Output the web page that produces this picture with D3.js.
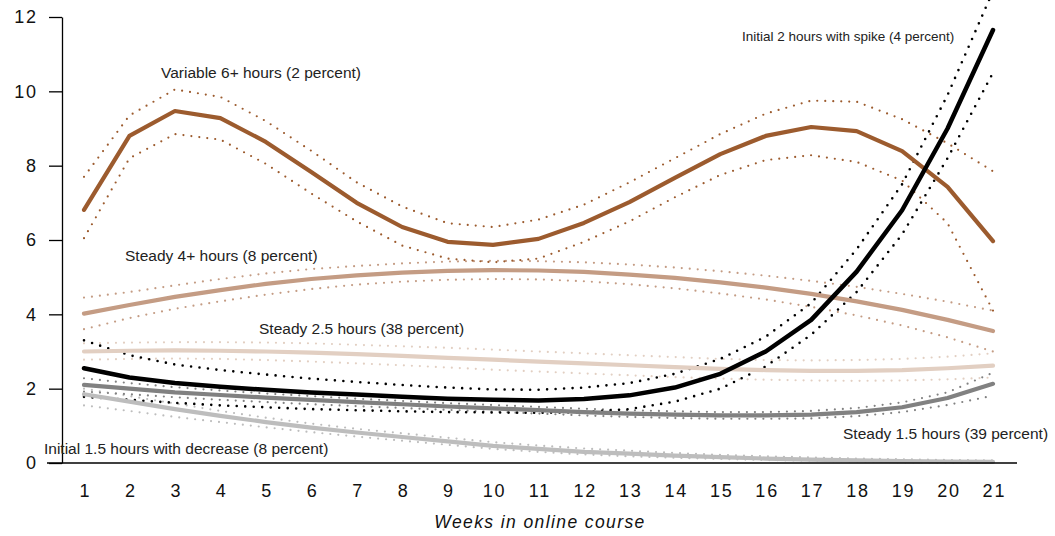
<!DOCTYPE html>
<html>
<head>
<meta charset="utf-8">
<script src="https://cdn.jsdelivr.net/npm/d3@7"></script>
<style>
  html, body { margin: 0; padding: 0; background: #fff; }
  svg { display: block; }
  .tick text { font-family: "Liberation Sans", Arial, sans-serif; }
  .lbl { font-family: "Liberation Sans Narrow", "Liberation Sans", Arial, sans-serif; fill: #222; }
</style>
</head>
<body>
<svg id="chart" width="1055" height="536"></svg>
<script>
const weeks = d3.range(1, 22);
const yTicks = [0, 2, 4, 6, 8, 10, 12];

// Variable 6+ hours (2 percent)
const variable6 = [6.81, 8.80, 9.47, 9.28, 8.64, 7.83, 7.00, 6.35, 5.95, 5.87, 6.03, 6.46, 7.02, 7.67, 8.31, 8.80, 9.04, 8.93, 8.39, 7.43, 5.97];
const variable6Hi = [7.70, 9.35, 10.05, 9.85, 9.20, 8.40, 7.55, 6.90, 6.45, 6.35, 6.55, 6.95, 7.55, 8.20, 8.85, 9.40, 9.75, 9.72, 9.25, 8.60, 7.85];
const variable6Lo = [6.05, 8.20, 8.85, 8.70, 8.05, 7.25, 6.50, 5.85, 5.50, 5.40, 5.50, 5.95, 6.50, 7.15, 7.75, 8.15, 8.28, 8.10, 7.60, 6.45, 4.10];

// Steady 4+ hours (8 percent)
const steady4 = [4.02, 4.25, 4.47, 4.65, 4.82, 4.95, 5.05, 5.12, 5.17, 5.19, 5.18, 5.14, 5.07, 4.98, 4.86, 4.72, 4.55, 4.35, 4.12, 3.85, 3.55];
const steady4Hi = [4.45, 4.60, 4.78, 4.95, 5.10, 5.22, 5.30, 5.37, 5.42, 5.44, 5.43, 5.40, 5.34, 5.26, 5.16, 5.04, 4.90, 4.74, 4.55, 4.34, 4.10];
const steady4Lo = [3.60, 3.90, 4.15, 4.35, 4.53, 4.68, 4.80, 4.88, 4.93, 4.95, 4.94, 4.89, 4.81, 4.70, 4.56, 4.40, 4.20, 3.97, 3.70, 3.38, 3.00];

// Steady 2.5 hours (38 percent)
const steady25 = [3.00, 3.02, 3.03, 3.02, 3.00, 2.97, 2.93, 2.88, 2.83, 2.78, 2.73, 2.68, 2.63, 2.58, 2.53, 2.50, 2.48, 2.48, 2.50, 2.55, 2.62];
const steady25Hi = [3.22, 3.24, 3.25, 3.25, 3.24, 3.22, 3.18, 3.14, 3.10, 3.05, 3.00, 2.95, 2.90, 2.85, 2.80, 2.77, 2.76, 2.77, 2.80, 2.86, 2.95];
const steady25Lo = [2.78, 2.80, 2.81, 2.80, 2.77, 2.73, 2.68, 2.63, 2.57, 2.51, 2.46, 2.41, 2.36, 2.31, 2.27, 2.24, 2.22, 2.21, 2.22, 2.25, 2.30];

// Initial 2 hours with spike (4 percent)
const spike2 = [2.55, 2.30, 2.15, 2.05, 1.97, 1.90, 1.84, 1.78, 1.73, 1.70, 1.68, 1.72, 1.82, 2.03, 2.40, 3.00, 3.85, 5.15, 6.80, 9.00, 11.65];
const spike2Hi = [3.30, 2.90, 2.65, 2.50, 2.38, 2.27, 2.18, 2.10, 2.03, 1.98, 1.97, 2.03, 2.15, 2.40, 2.80, 3.40, 4.30, 5.75, 7.50, 9.90, 12.70];
const spike2Lo = [1.78, 1.70, 1.62, 1.55, 1.50, 1.45, 1.42, 1.39, 1.37, 1.36, 1.35, 1.37, 1.45, 1.65, 2.00, 2.60, 3.45, 4.60, 6.15, 8.20, 10.50];

// Steady 1.5 hours (39 percent)
const steady15 = [2.10, 2.00, 1.90, 1.83, 1.76, 1.70, 1.64, 1.58, 1.52, 1.47, 1.42, 1.37, 1.33, 1.30, 1.28, 1.28, 1.30, 1.37, 1.50, 1.75, 2.13];
const steady15Hi = [2.28, 2.15, 2.04, 1.95, 1.87, 1.80, 1.73, 1.67, 1.61, 1.56, 1.51, 1.46, 1.42, 1.39, 1.37, 1.37, 1.40, 1.48, 1.63, 1.90, 2.43];
const steady15Lo = [1.92, 1.85, 1.77, 1.70, 1.64, 1.58, 1.53, 1.48, 1.43, 1.38, 1.33, 1.28, 1.24, 1.21, 1.19, 1.19, 1.20, 1.26, 1.37, 1.56, 1.81];

// Initial 1.5 hours with decrease (8 percent)
const decr15 = [1.85, 1.65, 1.45, 1.27, 1.10, 0.95, 0.82, 0.70, 0.58, 0.46, 0.38, 0.30, 0.25, 0.20, 0.16, 0.12, 0.09, 0.07, 0.05, 0.04, 0.03];
const decr15Hi = [2.00, 1.80, 1.60, 1.40, 1.22, 1.06, 0.92, 0.80, 0.68, 0.56, 0.47, 0.39, 0.33, 0.27, 0.22, 0.18, 0.15, 0.12, 0.10, 0.08, 0.07];
const decr15Lo = [1.55, 1.40, 1.24, 1.10, 0.96, 0.83, 0.71, 0.60, 0.49, 0.38, 0.30, 0.23, 0.18, 0.14, 0.11, 0.08, 0.06, 0.04, 0.02, 0.01, 0.00];

const seriesNames = [
  "Initial 1.5 hours with decrease (8 percent)",
  "Steady 1.5 hours (39 percent)",
  "Steady 2.5 hours (38 percent)",
  "Steady 4+ hours (8 percent)",
  "Variable 6+ hours (2 percent)",
  "Initial 2 hours with spike (4 percent)"
];
const seriesValues = [decr15, steady15, steady25, steady4, variable6, spike2];
const seriesHi = [decr15Hi, steady15Hi, steady25Hi, steady4Hi, variable6Hi, spike2Hi];
const seriesLo = [decr15Lo, steady15Lo, steady25Lo, steady4Lo, variable6Lo, spike2Lo];
const seriesColors = ["#bdbdbd", "#818181", "#e2cfc2", "#c49c84", "#9c5b2e", "#000000"];

const svg = d3.select("#chart");
const x = d3.scaleLinear().domain([1, 21]).range([84, 993]);
const y = d3.scaleLinear().domain([0, 12]).range([463, 17]);

const line = d3.line().x((d, i) => x(weeks[i])).y(d => y(d));

// dotted bounds
seriesValues.forEach((vals, k) => {
  [seriesHi[k], seriesLo[k]].forEach(b => {
    svg.append("path")
      .attr("d", line(b))
      .attr("fill", "none")
      .attr("stroke", seriesColors[k])
      .attr("stroke-width", k === 5 ? 2.6 : 2.2)
      .attr("stroke-linecap", "round")
      .attr("stroke-dasharray", k === 5 ? "0 8.5" : "0 8");
  });
});

// main lines
seriesValues.forEach((vals, k) => {
  svg.append("path")
    .attr("d", line(vals))
    .attr("fill", "none")
    .attr("stroke", seriesColors[k])
    .attr("stroke-width", k === 5 ? 4.5 : 4.2)
    .attr("stroke-linecap", "round")
    .attr("stroke-linejoin", "round");
});

// y axis
const yAxis = svg.append("g")
  .attr("transform", "translate(62,0)")
  .call(d3.axisLeft(y).tickValues(yTicks).tickSize(13).tickSizeOuter(0).tickPadding(13));
yAxis.select(".domain").attr("stroke", "#000").attr("stroke-width", 1.3);
yAxis.selectAll(".tick line").attr("stroke", "#000").attr("stroke-width", 1.3);
yAxis.selectAll(".tick text").attr("font-size", 18).attr("fill", "#111").attr("letter-spacing", 1.8).attr("dx", 1.8);

// x axis line
svg.append("line")
  .attr("x1", 47).attr("x2", 1017)
  .attr("y1", y(0)).attr("y2", y(0))
  .attr("stroke", "#000").attr("stroke-width", 1.3);

// x tick labels
const xAxis = svg.append("g")
  .attr("transform", `translate(0,${y(0)})`)
  .call(d3.axisBottom(x).tickValues(weeks).tickFormat(d3.format("d")).tickSize(0).tickPadding(21));
xAxis.select(".domain").remove();
xAxis.selectAll(".tick text").attr("font-size", 18).attr("fill", "#111").attr("letter-spacing", 1.8).attr("dx", 0.9);

// x title
svg.append("text")
  .attr("x", 540).attr("y", 528)
  .attr("text-anchor", "middle")
  .attr("font-family", "Liberation Sans, Arial, sans-serif")
  .attr("font-style", "italic")
  .attr("font-size", 17.5)
  .attr("letter-spacing", 1.4)
  .attr("fill", "#111")
  .text("Weeks in online course");

// series labels
const labelPos = [
  [44, 454, 15.5],
  [843, 439, 15.5],
  [259, 334, 15.5],
  [125, 261, 15.5],
  [161, 78, 15.5],
  [742, 41, 13.5]
];
seriesNames.forEach((name, k) => {
  svg.append("text")
    .attr("class", "lbl")
    .attr("x", labelPos[k][0]).attr("y", labelPos[k][1])
    .attr("font-size", labelPos[k][2])
    .text(name);
});
</script>
</body>
</html>
